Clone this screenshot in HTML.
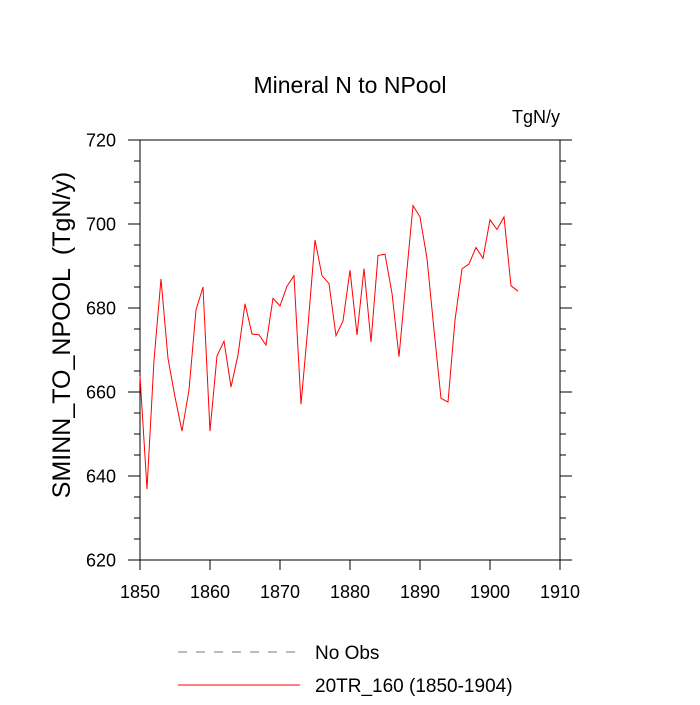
<!DOCTYPE html>
<html><head><meta charset="utf-8"><style>
body{margin:0;background:#fff;}
svg text{font-family:"Liberation Sans",sans-serif;fill:#000;}
</style></head><body>
<svg id="chart" width="700" height="700" xmlns="http://www.w3.org/2000/svg">
<text x="350" y="93" font-size="23" text-anchor="middle">Mineral N to NPool</text>
<text x="560" y="123" font-size="18" text-anchor="end">TgN/y</text>
<text transform="translate(70,335) rotate(-90)" font-size="25" text-anchor="middle" style="white-space:pre">SMINN_TO_NPOOL  (TgN/y)</text>
<rect x="140" y="140" width="420" height="420" fill="none" stroke="#000" stroke-width="1"/>
<g id="axes"></g>
<g id="series"></g>
<g>
<line x1="178" y1="652" x2="300" y2="652" stroke="#777" stroke-dasharray="9,9"/>
<text x="315" y="659" font-size="19">No Obs</text>
<line x1="178" y1="685" x2="300" y2="685" stroke="#f00" stroke-width="1"/>
<text x="315" y="692" font-size="19">20TR_160 (1850-1904)</text>
</g>
</svg>
<script>
const years=[1850,1851,1852,1853,1854,1855,1856,1857,1858,1859,1860,1861,1862,1863,1864,1865,1866,1867,1868,1869,1870,1871,1872,1873,1874,1875,1876,1877,1878,1879,1880,1881,1882,1883,1884,1885,1886,1887,1888,1889,1890,1891,1892,1893,1894,1895,1896,1897,1898,1899,1900,1901,1902,1903,1904];
const values=[663.8,636.9,667.6,686.9,668,658.8,650.7,660.5,679.5,685,650.7,668.6,672.1,661.2,668.8,681,673.8,673.6,671.2,682.3,680.5,685.2,687.7,657.1,675.7,696.2,687.7,685.8,673.4,676.9,689,673.6,689.4,671.9,692.5,692.8,683.5,668.4,686.7,704.4,701.7,691.8,674.8,658.5,657.6,677.1,689.3,690.5,694.4,691.8,701,698.7,701.7,685.3,684];
const xTicks=[1850,1860,1870,1880,1890,1900,1910];
const yTicks=[620,640,660,680,700,720];
const X0=140,X1=560,Y0=560,Y1=140,xmin=1850,xmax=1910,ymin=620,ymax=720;
const sx=v=>X0+(v-xmin)/(xmax-xmin)*(X1-X0);
const sy=v=>Y0-(v-ymin)/(ymax-ymin)*(Y0-Y1);
const NS="http://www.w3.org/2000/svg";
const axes=document.getElementById('axes');
function mk(tag,attrs,parent){const e=document.createElementNS(NS,tag);for(const k in attrs)e.setAttribute(k,attrs[k]);parent.appendChild(e);return e;}
xTicks.forEach(t=>{
  const l=mk('line',{x1:sx(t),x2:sx(t),y1:560,y2:570,stroke:'#000'},axes);
  
  
  const tx=mk('text',{x:sx(t),y:598,'font-size':18,'text-anchor':'middle'},axes);
  tx.textContent=t;
  
  
});
for(let v=ymin;v<=ymax;v+=5){
  const major=(v%20===0);const len=major?12:6;
  const l=mk('line',{x1:X0-len,x2:X0,y1:sy(v),y2:sy(v),stroke:'#000'},axes);
  
  
  const r=mk('line',{x1:X1,x2:X1+len,y1:sy(v),y2:sy(v),stroke:'#000'},axes);
  
  
}
yTicks.forEach(t=>{
  const tx=mk('text',{x:116,y:sy(t)+6.5,'font-size':18,'text-anchor':'end'},axes);
  tx.textContent=t;
  
  
});
const pts=years.map((y,i)=>sx(y).toFixed(1)+','+sy(values[i]).toFixed(1)).join(' ');
const pl=mk('polyline',{points:pts,fill:'none',stroke:'#f00','stroke-width':1},document.getElementById('series'));


</script>
</body></html>
